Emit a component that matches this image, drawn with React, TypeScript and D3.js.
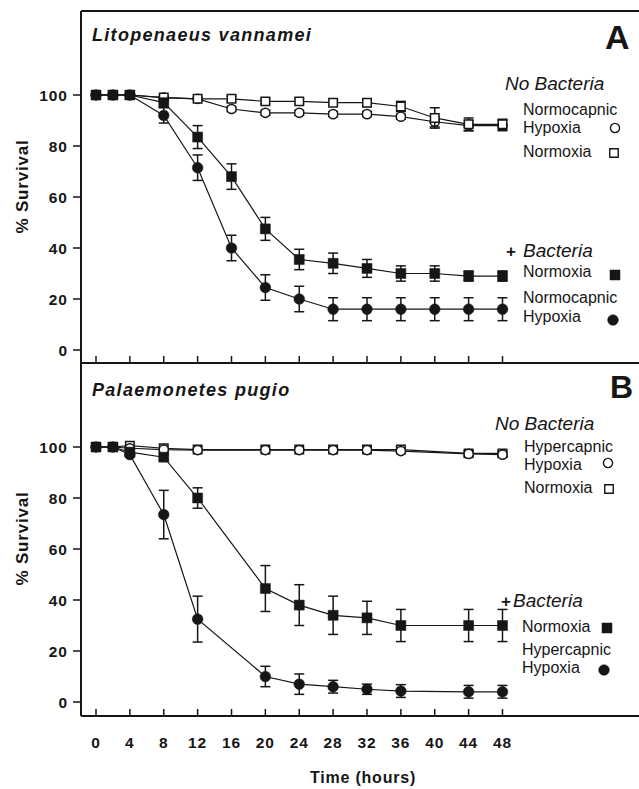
import React from "react"
import * as d3 from "d3"

// sampling times (hours)
const hoursA = [0, 2, 4, 8, 12, 16, 20, 24, 28, 32, 36, 40, 44, 48]
const hoursB = [0, 2, 4, 8, 12, 20, 24, 28, 32, 36, 44, 48]

// Panel A - Litopenaeus vannamei
const aNoBactNormoxia = [100, 100, 100, 99, 98.5, 98.5, 97.5, 97.5, 97, 97, 95.5, 91, 88.5, 88.5]
const aNoBactNormoxiaErr = [0, 0, 0, 0, 0, 1, 1, 1, 1, 1.5, 2, 4, 2.5, 2]
const aNoBactHypoxia = [100, 100, 100, 99, 98.5, 94.5, 93, 93, 92.5, 92.5, 91.5, 89.5, 88, 88]
const aNoBactHypoxiaErr = [0, 0, 0, 0, 0, 1, 1, 1, 1, 1, 1, 2, 2, 2]
const aBactNormoxia = [100, 100, 100, 97, 83.5, 68, 47.5, 35.5, 34, 32, 30, 30, 29, 29]
const aBactNormoxiaErr = [0, 0, 0, 1.5, 4.5, 5, 4.5, 4, 4, 3.5, 3, 3, 2, 2]
const aBactHypoxia = [100, 100, 100, 92, 71.5, 40, 24.5, 20, 16, 16, 16, 16, 16, 16]
const aBactHypoxiaErr = [0, 0, 0, 3, 5, 5, 5, 5, 4.5, 4.5, 4.5, 4.5, 4.5, 4.5]

// Panel B - Palaemonetes pugio
const bNoBactNormoxia = [100, 100, 100.5, 99.5, 99, 99, 99, 99, 99, 99, 97.5, 97.5]
const bNoBactNormoxiaErr = [0, 0, 0, 0, 0, 0, 0, 0, 0, 1, 1, 1]
const bNoBactHypoxia = [100, 100, 99.5, 99, 98.8, 98.8, 98.8, 98.8, 98.8, 98.4, 97.3, 97]
const bNoBactHypoxiaErr = [0, 0, 0, 0, 0, 0, 0, 0, 0, 0, 1, 1]
const bBactNormoxia = [100, 100, 98, 96, 80, 44.5, 38, 34, 33, 30, 30, 30]
const bBactNormoxiaErr = [0, 0, 0, 1, 4, 9, 8, 7.5, 6.5, 6.3, 6.3, 6.3]
const bBactHypoxia = [100, 100, 97, 73.5, 32.5, 10, 7, 6, 5, 4.3, 4, 4]
const bBactHypoxiaErr = [0, 0, 0, 9.5, 9, 4, 4, 2.5, 2, 2.5, 2.5, 2.5]

const xTicks = [0, 4, 8, 12, 16, 20, 24, 28, 32, 36, 40, 44, 48]
const yTicks = [0, 20, 40, 60, 80, 100]

const FONT = "'Liberation Sans', Arial, sans-serif"
const INK = "#161616"

const x = d3.scaleLinear().domain([0, 48]).range([96, 502.5])

function Series({ hours, values, errs, y, shape, filled }) {
  const pts = hours.map((h, i) => ({ h, v: values[i], e: errs[i] }))
  const line = d3
    .line()
    .x(d => x(d.h))
    .y(d => y(d.v))
  const sym = d3
    .symbol()
    .type(shape === "square" ? d3.symbolSquare : d3.symbolCircle)
    .size(shape === "square" ? (filled ? 100 : 72) : (filled ? 90 : 66))
  return (
    <g>
      <path d={line(pts)} fill="none" stroke={INK} strokeWidth={1.2} />
      {pts
        .filter(d => d.e > 0.8)
        .map((d, i) => (
          <g key={"e" + i} stroke={INK} strokeWidth={1.5}>
            <line x1={x(d.h)} x2={x(d.h)} y1={y(d.v - d.e)} y2={y(d.v + d.e)} />
            <line x1={x(d.h) - 5} x2={x(d.h) + 5} y1={y(d.v + d.e)} y2={y(d.v + d.e)} />
            <line x1={x(d.h) - 5} x2={x(d.h) + 5} y1={y(d.v - d.e)} y2={y(d.v - d.e)} />
          </g>
        ))}
      {pts.map((d, i) => (
        <path
          key={"m" + i}
          d={sym()}
          transform={`translate(${x(d.h)},${y(d.v)})`}
          fill={filled ? INK : "white"}
          stroke={INK}
          strokeWidth={filled ? 0.5 : 1.5}
        />
      ))}
    </g>
  )
}

function Marker({ cx, cy, shape, filled }) {
  const sym = d3
    .symbol()
    .type(shape === "square" ? d3.symbolSquare : d3.symbolCircle)
    .size(shape === "square" ? (filled ? 100 : 72) : (filled ? 90 : 66))
  return (
    <path
      d={sym()}
      transform={`translate(${cx},${cy})`}
      fill={filled ? INK : "white"}
      stroke={INK}
      strokeWidth={filled ? 0.5 : 1.4}
    />
  )
}

function Axes({ y, top, bottom, showLabels }) {
  return (
    <g>
      <line x1={81} x2={639} y1={bottom} y2={bottom} stroke={INK} strokeWidth={2} />
      <line x1={81} x2={81} y1={top} y2={bottom} stroke={INK} strokeWidth={2} />
      {xTicks.map(t => (
        <g key={"x" + t}>
          <line x1={x(t)} x2={x(t)} y1={bottom} y2={bottom - 7} stroke={INK} strokeWidth={1.5} />
          {showLabels && (
            <text
              x={x(t)}
              y={bottom + 32}
              textAnchor="middle"
              fontFamily={FONT}
              fontWeight="bold"
              fontSize={15.5}
              letterSpacing={1}
              fill={INK}
            >
              {t}
            </text>
          )}
        </g>
      ))}
      {yTicks.map(t => (
        <g key={"y" + t}>
          <line x1={73} x2={81} y1={y(t)} y2={y(t)} stroke={INK} strokeWidth={1.5} />
          <text
            x={68}
            y={y(t) + 5.5}
            textAnchor="end"
            fontFamily={FONT}
            fontWeight="bold"
            fontSize={15.5}
            letterSpacing={1}
            fill={INK}
          >
            {t}
          </text>
        </g>
      ))}
      <text
        transform={`translate(28,${(y(0) + y(100)) / 2 - 36}) rotate(-90)`}
        textAnchor="middle"
        fontFamily={FONT}
        fontWeight="bold"
        fontSize={17}
        letterSpacing={0.8}
        fill={INK}
      >
        % Survival
      </text>
    </g>
  )
}

function Txt({ x: tx, y: ty, size = 16, italic = false, bold = false, children }) {
  return (
    <text
      x={tx}
      y={ty}
      fontFamily={FONT}
      fontSize={size}
      fontStyle={italic ? "italic" : "normal"}
      fontWeight={bold ? "bold" : "normal"}
      fill={INK}
    >
      {children}
    </text>
  )
}

export default function App() {
  const yA = d3.scaleLinear().domain([0, 100]).range([350, 95])
  const yB = d3.scaleLinear().domain([0, 100]).range([702, 447])

  return (
    <svg
      width={639}
      height={789}
      style={{ position: "absolute", left: 0, top: 0, background: "white" }}
    >
      <rect width={639} height={789} fill="white" />
      <line x1={81} x2={639} y1={11} y2={11} stroke={INK} strokeWidth={2} />

      {/* Panel A */}
      <Axes y={yA} top={11} bottom={363} showLabels={false} />
      <text x={92} y={41} fontFamily={FONT} fontSize={18} fontWeight="bold" fontStyle="italic" letterSpacing={1.3} fill={INK}>
        Litopenaeus vannamei
      </text>
      <text x={605} y={49} fontFamily={FONT} fontSize={34} fontWeight="bold" fill={INK}>A</text>
      <Series hours={hoursA} values={aNoBactHypoxia} errs={aNoBactHypoxiaErr} y={yA} shape="circle" filled={false} />
      <Series hours={hoursA} values={aNoBactNormoxia} errs={aNoBactNormoxiaErr} y={yA} shape="square" filled={false} />
      <Series hours={hoursA} values={aBactHypoxia} errs={aBactHypoxiaErr} y={yA} shape="circle" filled={true} />
      <Series hours={hoursA} values={aBactNormoxia} errs={aBactNormoxiaErr} y={yA} shape="square" filled={true} />

      <Txt x={505} y={90} size={19} italic>No Bacteria</Txt>
      <Txt x={523} y={115}>Normocapnic</Txt>
      <Txt x={523} y={133}>Hypoxia</Txt>
      <Marker cx={615} cy={128} shape="circle" filled={false} />
      <Txt x={523} y={157}>Normoxia</Txt>
      <Marker cx={614} cy={153} shape="square" filled={false} />
      <Txt x={506} y={257} size={17} bold>+</Txt>
      <Txt x={523} y={257} size={19} italic>Bacteria</Txt>
      <Txt x={523} y={277}>Normoxia</Txt>
      <Marker cx={615} cy={275} shape="square" filled={true} />
      <Txt x={523} y={303}>Normocapnic</Txt>
      <Txt x={523} y={322}>Hypoxia</Txt>
      <Marker cx={613} cy={320} shape="circle" filled={true} />

      {/* Panel B */}
      <Axes y={yB} top={363} bottom={716} showLabels={true} />
      <text x={92} y={396} fontFamily={FONT} fontSize={18} fontWeight="bold" fontStyle="italic" letterSpacing={1.3} fill={INK}>
        Palaemonetes pugio
      </text>
      <text x={610} y={398} fontFamily={FONT} fontSize={32} fontWeight="bold" fill={INK}>B</text>
      <Series hours={hoursB} values={bNoBactNormoxia} errs={bNoBactNormoxiaErr} y={yB} shape="square" filled={false} />
      <Series hours={hoursB} values={bNoBactHypoxia} errs={bNoBactHypoxiaErr} y={yB} shape="circle" filled={false} />
      <Series hours={hoursB} values={bBactNormoxia} errs={bBactNormoxiaErr} y={yB} shape="square" filled={true} />
      <Series hours={hoursB} values={bBactHypoxia} errs={bBactHypoxiaErr} y={yB} shape="circle" filled={true} />

      <Txt x={495} y={430} size={19} italic>No Bacteria</Txt>
      <Txt x={524} y={452}>Hypercapnic</Txt>
      <Txt x={524} y={470}>Hypoxia</Txt>
      <Marker cx={608} cy={463} shape="circle" filled={false} />
      <Txt x={524} y={493}>Normoxia</Txt>
      <Marker cx={609} cy={489} shape="square" filled={false} />
      <Txt x={501} y={607} size={17} bold>+</Txt>
      <Txt x={513} y={607} size={19} italic>Bacteria</Txt>
      <Txt x={522} y={632}>Normoxia</Txt>
      <Marker cx={607} cy={628} shape="square" filled={true} />
      <Txt x={522} y={655}>Hypercapnic</Txt>
      <Txt x={522} y={673}>Hypoxia</Txt>
      <Marker cx={604} cy={670} shape="circle" filled={true} />

      <text x={363} y={783} textAnchor="middle" fontFamily={FONT} fontSize={16} fontWeight="bold" letterSpacing={0.8} fill={INK}>
        Time (hours)
      </text>
    </svg>
  )
}
